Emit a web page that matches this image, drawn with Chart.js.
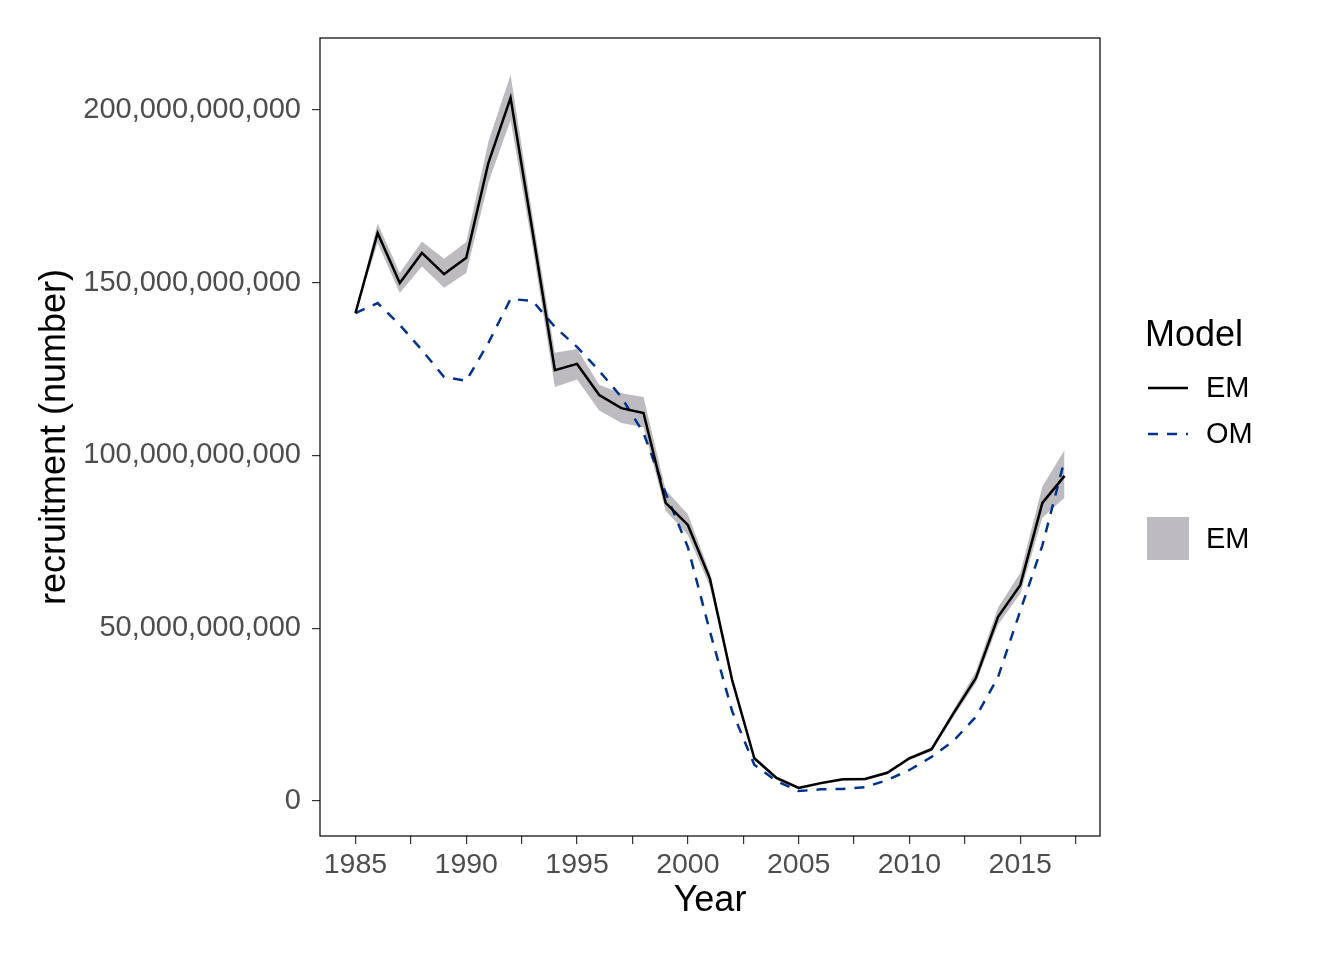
<!DOCTYPE html>
<html>
<head>
<meta charset="utf-8">
<script src="https://cdn.jsdelivr.net/npm/chart.js@4/dist/chart.umd.min.js"></script>
<style>
  html, body { margin: 0; padding: 0; background: #fff; }
  #wrap { width: 1344px; height: 960px; }
</style>
</head>
<body>
<div id="wrap"><canvas id="mycanvas" width="1344" height="960"></canvas></div>
<script>
// values in billions (1e9)
var years = [1985,1986,1987,1988,1989,1990,1991,1992,1993,1994,1995,1996,1997,1998,1999,2000,
             2001,2002,2003,2004,2005,2006,2007,2008,2009,2010,2011,2012,2013,2014,2015,2016,2017];
var em = [141.2,164.4,149.9,158.6,152.5,157.2,184.7,203.5,164.5,124.7,126.5,117.5,113.7,112.3,86.3,79.9,
          64.3,35.0,12.4,6.7,3.8,5.2,6.3,6.4,8.2,12.4,15.0,25.5,35.6,53.3,62.5,86.3,94.1];
var emLow = [141.2,161.5,147.0,154.7,148.5,152.8,179.0,197.0,160.0,119.8,122.0,113.0,109.4,108.2,84.0,77.0,
             62.0,34.0,11.8,6.2,3.4,4.8,5.9,6.0,7.8,11.9,14.4,24.5,34.2,51.0,60.0,82.0,87.8];
var emHigh = [141.2,167.2,152.8,161.9,156.9,161.8,190.8,210.2,169.0,129.7,130.8,120.5,118.0,116.9,90.0,83.0,
              66.0,36.0,13.0,7.2,4.2,5.6,6.7,6.8,8.6,12.9,15.6,26.5,37.5,56.0,66.0,91.0,101.6];
var om = [141.2,144.1,137.8,130.5,122.7,121.6,132.6,145.3,144.7,137.2,131.4,124.5,116.9,106.5,89.1,73.5,
          49.0,26.0,10.5,5.8,2.9,3.4,3.5,4.0,6.1,9.0,12.8,17.5,24.4,35.9,55.0,74.0,98.7];
var xTicks = [1985,1987.5,1990,1992.5,1995,1997.5,2000,2002.5,2005,2007.5,2010,2012.5,2015,2017.5];
var yTicks = [0,50,100,150,200];

function pts(arr) {
  return years.map(function(y, i) { return {x: y, y: arr[i] * 1e9}; });
}

var FONT = "'Liberation Sans', Arial, sans-serif";
var RIBBON = '#bebbc0';
var OMCOL = '#00338d';

var panelBorder = {
  id: 'panelBorder',
  afterDraw: function(chart) {
    var a = chart.chartArea, c = chart.ctx;
    c.save();
    c.strokeStyle = '#000';
    c.lineWidth = 1.2;
    c.strokeRect(a.left, a.top, a.right - a.left, a.bottom - a.top);

    // legend
    c.fillStyle = '#000';
    c.font = '36px ' + FONT;
    c.textBaseline = 'alphabetic';
    c.textAlign = 'left';
    c.fillText('Model', 1145, 346);
    c.font = '29px ' + FONT;
    c.textBaseline = 'middle';
    c.fillText('EM', 1206, 389);
    c.fillText('OM', 1206, 435);
    c.fillText('EM', 1206, 540);
    c.lineWidth = 2.5;
    c.strokeStyle = '#000';
    c.beginPath(); c.moveTo(1148, 388); c.lineTo(1188, 388); c.stroke();
    c.strokeStyle = OMCOL;
    c.setLineDash([10, 9]);
    c.beginPath(); c.moveTo(1148, 434); c.lineTo(1188, 434); c.stroke();
    c.setLineDash([]);
    c.fillStyle = RIBBON;
    c.fillRect(1147, 517, 42, 43);
    c.restore();
  }
};

var ctx = document.getElementById('mycanvas');
var myLineChart = new Chart(ctx, {
  type: 'line',
  data: {
    datasets: [
      { label: 'low', data: pts(emLow), borderWidth: 0, pointRadius: 0, fill: false, order: 3 },
      { label: 'ribbon', data: pts(emHigh), borderWidth: 0, pointRadius: 0, fill: '-1', backgroundColor: RIBBON, order: 2 },
      { label: 'OM', data: pts(om), borderColor: OMCOL, borderWidth: 2.5, borderDash: [10, 9], pointRadius: 0, fill: false, order: 1 },
      { label: 'EM', data: pts(em), borderColor: '#000', borderWidth: 2.5, pointRadius: 0, fill: false, order: 0 }
    ]
  },
  options: {
    responsive: false,
    animation: false,
    layout: { padding: { left: 0, right: 244, top: 38, bottom: 0 } },
    plugins: { legend: { display: false }, tooltip: { enabled: false } },
    scales: {
      x: {
        type: 'linear',
        min: 1983.4, max: 2018.6,
        afterBuildTicks: function(s) { s.ticks = xTicks.map(function(v) { return {value: v}; }); },
        afterFit: function(s) { s.height = 124; },
        ticks: {
          autoSkip: false, maxRotation: 0, padding: 4,
          color: '#4d4d4d', font: { family: FONT, size: 28.5 },
          callback: function(v) { return v % 5 === 0 ? String(v) : ''; }
        },
        grid: { drawOnChartArea: false, drawTicks: true, tickLength: 8, color: '#333', lineWidth: 1.2 },
        border: { display: false },
        title: { display: true, text: 'Year', color: '#000', font: { family: FONT, size: 36 }, padding: { top: 0, bottom: 37 } }
      },
      y: {
        min: -10.1e9, max: 220.8e9,
        afterBuildTicks: function(s) { s.ticks = yTicks.map(function(v) { return {value: v * 1e9}; }); },
        afterFit: function(s) { s.width = 320; },
        ticks: {
          padding: 11, color: '#4d4d4d', font: { family: FONT, size: 29 },
          callback: function(v) { return Number(v).toLocaleString('en-US'); }
        },
        grid: { drawOnChartArea: false, drawTicks: true, tickLength: 8, color: '#333', lineWidth: 1.2 },
        border: { display: false },
        title: { display: true, text: 'recruitment (number)', color: '#000', font: { family: FONT, size: 36 }, padding: { top: 33, bottom: 0 } }
      }
    }
  },
  plugins: [panelBorder]
});
</script>
</body>
</html>
